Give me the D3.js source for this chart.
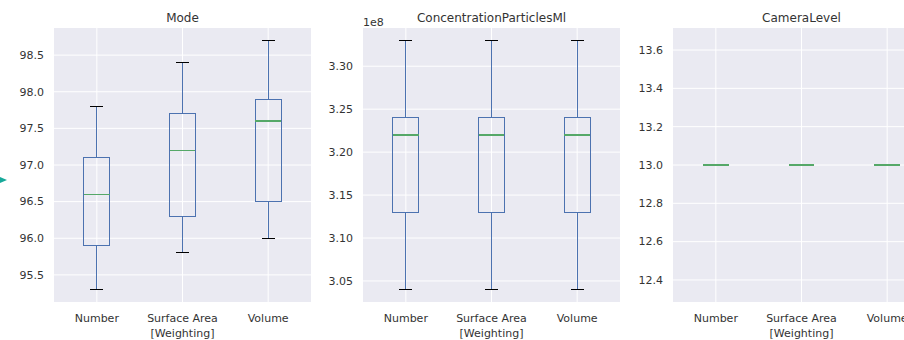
<!DOCTYPE html>
<html>
<head>
<meta charset="utf-8">
<script src="https://cdn.jsdelivr.net/npm/d3@7"></script>
<style>
  body { margin: 0; background: #fff; }
  text { font-family: "DejaVu Sans", sans-serif; fill: #333; }
  .box line, .box rect { shape-rendering: crispEdges; }
</style>
</head>
<body>
<svg id="chart" width="904" height="340"></svg>
<script>
const categories = ["Number", "Surface Area", "Volume"];

// [whiskerLow, q1, median, q3, whiskerHigh]
const modeStats = [
  [95.3, 95.9, 96.6, 97.1, 97.8],
  [95.8, 96.3, 97.2, 97.7, 98.4],
  [96.0, 96.5, 97.6, 97.9, 98.7],
];
const concStats = [
  [3.04e8, 3.13e8, 3.22e8, 3.24e8, 3.33e8],
  [3.04e8, 3.13e8, 3.22e8, 3.24e8, 3.33e8],
  [3.04e8, 3.13e8, 3.22e8, 3.24e8, 3.33e8],
];
const cameraStats = [
  [13, 13, 13, 13, 13],
  [13, 13, 13, 13, 13],
  [13, 13, 13, 13, 13],
];

const modeTicks = [95.5, 96.0, 96.5, 97.0, 97.5, 98.0, 98.5];
const concTicks = [3.05e8, 3.10e8, 3.15e8, 3.20e8, 3.25e8, 3.30e8];
const cameraTicks = [12.4, 12.6, 12.8, 13.0, 13.2, 13.4, 13.6];

const panels = [
  { title: "Mode", stats: modeStats, ticks: modeTicks, domain: [95.13, 98.87], left: 54, fmt: d3.format(".1f") },
  { title: "ConcentrationParticlesMl", stats: concStats, ticks: concTicks, domain: [3.0255e8, 3.3445e8], left: 363,
    fmt: d => (d / 1e8).toFixed(2), offset: "1e8" },
  { title: "CameraLevel", stats: cameraStats, ticks: cameraTicks, domain: [12.285, 13.715], left: 673, fmt: d3.format(".1f") },
];

const plotTop = 28, plotBottom = 302, panelWidth = 257;
const boxColor = "#4C72B0", medianColor = "#55A868";

const svg = d3.select("#chart");

panels.forEach(p => {
  const x = d3.scaleLinear().domain([0.5, 3.5]).range([p.left, p.left + panelWidth]);
  const y = d3.scaleLinear().domain(p.domain).range([plotBottom, plotTop]);
  const g = svg.append("g");

  g.append("rect")
    .attr("x", p.left).attr("y", plotTop)
    .attr("width", panelWidth).attr("height", plotBottom - plotTop)
    .attr("fill", "#EAEAF2");

  // grid
  g.selectAll(".hgrid").data(p.ticks).enter().append("line")
    .attr("x1", p.left).attr("x2", p.left + panelWidth)
    .attr("y1", d => y(d)).attr("y2", d => y(d))
    .attr("stroke", "#fff").attr("stroke-width", 1);
  g.selectAll(".vgrid").data(categories).enter().append("line")
    .attr("x1", (d, i) => x(i + 1)).attr("x2", (d, i) => x(i + 1))
    .attr("y1", plotTop).attr("y2", plotBottom)
    .attr("stroke", "#fff").attr("stroke-width", 1);

  // y tick labels
  g.selectAll(".ytick").data(p.ticks).enter().append("text")
    .attr("x", p.left - 10).attr("y", d => y(d))
    .attr("dy", "0.35em").attr("text-anchor", "end")
    .style("font-size", "11px")
    .text(p.fmt);

  // x tick labels
  g.selectAll(".xtick").data(categories).enter().append("text")
    .attr("x", (d, i) => x(i + 1)).attr("y", 322)
    .attr("text-anchor", "middle")
    .style("font-size", "11px")
    .text(d => d);

  g.append("text")
    .attr("x", p.left + panelWidth / 2).attr("y", 337)
    .attr("text-anchor", "middle")
    .style("font-size", "11px")
    .text("[Weighting]");

  g.append("text")
    .attr("x", p.left + panelWidth / 2).attr("y", 22)
    .attr("text-anchor", "middle")
    .style("font-size", "12px")
    .text(p.title);

  if (p.offset) {
    g.append("text")
      .attr("x", p.left).attr("y", 26)
      .style("font-size", "11px")
      .text(p.offset);
  }

  const boxW = x(1.15) - x(1), capW = x(1.075) - x(1);
  const box = g.selectAll(".box").data(p.stats).enter().append("g").attr("class", "box");

  // whiskers
  box.append("line")
    .attr("x1", (d, i) => x(i + 1)).attr("x2", (d, i) => x(i + 1))
    .attr("y1", d => y(d[0])).attr("y2", d => y(d[1]))
    .attr("stroke", boxColor);
  box.append("line")
    .attr("x1", (d, i) => x(i + 1)).attr("x2", (d, i) => x(i + 1))
    .attr("y1", d => y(d[3])).attr("y2", d => y(d[4]))
    .attr("stroke", boxColor);
  // caps
  [0, 4].forEach(k => {
    box.append("line")
      .attr("x1", (d, i) => x(i + 1) - capW).attr("x2", (d, i) => x(i + 1) + capW)
      .attr("y1", d => y(d[k])).attr("y2", d => y(d[k]))
      .attr("stroke", "#000");
  });
  // box
  box.append("rect")
    .attr("x", (d, i) => x(i + 1) - boxW).attr("width", 2 * boxW)
    .attr("y", d => y(d[3])).attr("height", d => y(d[1]) - y(d[3]))
    .attr("fill", "none").attr("stroke", boxColor);
  // median
  box.append("line")
    .attr("x1", (d, i) => x(i + 1) - boxW).attr("x2", (d, i) => x(i + 1) + boxW)
    .attr("y1", d => y(d[2])).attr("y2", d => y(d[2]))
    .attr("stroke", medianColor).attr("stroke-width", 1.2);
});

// small teal marker at the left edge
svg.append("path")
  .attr("d", "M0,177 L7,180 L0,183 Z")
  .attr("fill", "#17A99A");
</script>
</body>
</html>
